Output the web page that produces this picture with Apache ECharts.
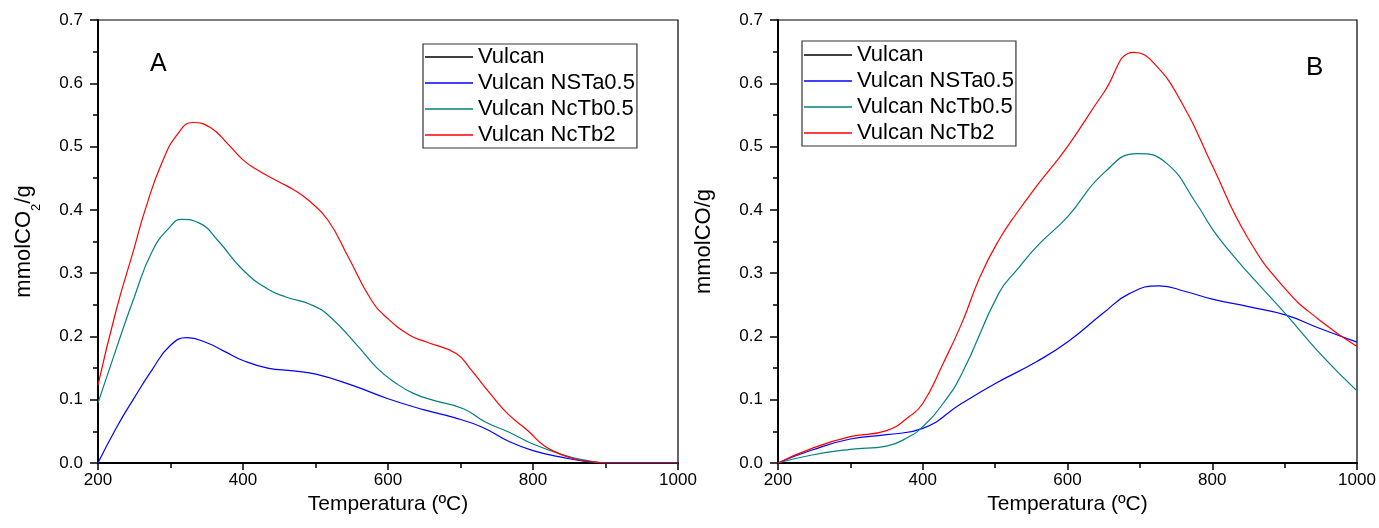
<!DOCTYPE html>
<html>
<head>
<meta charset="utf-8">
<script src="https://cdn.jsdelivr.net/npm/echarts@6/dist/echarts.min.js"></script>
<style>
html,body{margin:0;padding:0;background:#fff;}
#chart{width:1379px;height:528px;}
</style>
</head>
<body>
<div id="chart"></div>
<script>
// ---------- DATA ----------
var seriesNames = ['Vulcan', 'Vulcan NSTa0.5', 'Vulcan NcTb0.5', 'Vulcan NcTb2'];
var xTicks = [200, 400, 600, 800, 1000];
var yTicks = [0.0, 0.1, 0.2, 0.3, 0.4, 0.5, 0.6, 0.7];

// Panel A (mmolCO2/g)
var tA_vulcan = [];
var vA_vulcan = [];
var tA_nsta05 = [200, 225, 250, 275, 300, 323, 350, 375, 400, 434, 470, 502, 550, 600, 650, 689, 730, 767, 800, 844, 870, 900, 950, 1000];
var vA_nsta05 = [0.0, 0.055, 0.103, 0.148, 0.186, 0.198, 0.190, 0.176, 0.162, 0.150, 0.1455, 0.140, 0.123, 0.1016, 0.084, 0.0725, 0.0566, 0.034, 0.0196, 0.008, 0.003, 0.0, 0.0, 0.0];
var tA_nctb05 = [200, 225, 250, 275, 300, 315, 340, 365, 400, 434, 460, 494, 520, 559, 585, 611, 635, 663, 704, 735, 767, 800, 845, 870, 900, 950, 1000];
var vA_nctb05 = [0.095, 0.180, 0.262, 0.335, 0.374, 0.385, 0.379, 0.352, 0.305, 0.275, 0.262, 0.250, 0.231, 0.184, 0.150, 0.126, 0.110, 0.099, 0.0857, 0.0645, 0.0487, 0.030, 0.0116, 0.005, 0.0, 0.0, 0.0];
var tA_nctb2 = [200, 225, 250, 265, 288, 310, 331, 355, 380, 400, 420, 450, 471, 490, 517, 545, 577, 600, 630, 652, 694, 715, 741, 765, 793, 815, 834, 860, 891, 900, 950, 1000];
var vA_nctb2 = [0.123, 0.241, 0.340, 0.400, 0.474, 0.520, 0.538, 0.530, 0.503, 0.479, 0.463, 0.444, 0.431, 0.4155, 0.384, 0.326, 0.2575, 0.228, 0.202, 0.1915, 0.173, 0.1466, 0.1095, 0.078, 0.051, 0.0275, 0.016, 0.0055, 0.001, 0.0, 0.0, 0.0];

// Panel B (mmolCO/g)
var tB_vulcan = [];
var vB_vulcan = [];
var tB_nsta05 = [200, 247, 300, 350, 400, 454, 501, 557, 601, 649, 686, 727, 763, 800, 850, 901, 948, 1000];
var vB_nsta05 = [0.0, 0.0205, 0.0379, 0.0447, 0.0548, 0.0943, 0.126, 0.160, 0.192, 0.2365, 0.268, 0.280, 0.271, 0.259, 0.247, 0.234, 0.213, 0.191];
var tB_nctb05 = [200, 247, 300, 350, 381, 400, 428, 454, 505, 530, 560, 600, 650, 697, 737, 778, 800, 822, 850, 901, 948, 1000];
var vB_nctb05 = [0.0, 0.0126, 0.0216, 0.0268, 0.0416, 0.0574, 0.094, 0.141, 0.268, 0.305, 0.345, 0.389, 0.458, 0.489, 0.4735, 0.410, 0.370, 0.337, 0.300, 0.236, 0.174, 0.114];
var tB_nctb2 = [200, 247, 300, 350, 381, 400, 428, 454, 479, 505, 530, 557, 600, 650, 692, 720, 760, 800, 848, 901, 948, 1000];
var vB_nctb2 = [0.0, 0.0231, 0.0416, 0.0511, 0.0732, 0.094, 0.157, 0.221, 0.294, 0.352, 0.395, 0.437, 0.500, 0.585, 0.649, 0.631, 0.565, 0.470, 0.358, 0.275, 0.226, 0.184];

var colors = ['#000000', '#0000ff', '#008080', '#ff0000'];

// ---------- BUILD ----------
function pairs(t, v) { return t.map(function (x, i) { return [x, v[i]]; }); }

var panelA = [pairs(tA_vulcan, vA_vulcan), pairs(tA_nsta05, vA_nsta05), pairs(tA_nctb05, vA_nctb05), pairs(tA_nctb2, vA_nctb2)];
var panelB = [pairs(tB_vulcan, vB_vulcan), pairs(tB_nsta05, vB_nsta05), pairs(tB_nctb05, vB_nctb05), pairs(tB_nctb2, vB_nctb2)];

var FONT = 'Liberation Sans, Arial, sans-serif';

function makeX(idx) {
  return {
    type: 'value', gridIndex: idx, min: 200, max: 1000, interval: 200,
    name: 'Temperatura (ºC)', nameLocation: 'middle', nameGap: 31,
    nameTextStyle: { fontFamily: FONT, fontSize: 21, color: '#000' },
    axisLine: { show: true, onZero: false, lineStyle: { color: '#000', width: 2 } },
    axisTick: { show: true, length: 7, lineStyle: { color: '#000', width: 1.5 } },
    minorTick: { show: true, splitNumber: 2, length: 5, lineStyle: { color: '#000', width: 1.5 } },
    axisLabel: { fontFamily: FONT, fontSize: 17, color: '#000', margin: 9,
      formatter: function (v) { return xTicks.indexOf(v) >= 0 ? String(v) : ''; } },
    splitLine: { show: false }
  };
}
function makeY(idx, nameText, rich) {
  return {
    type: 'value', gridIndex: idx, min: 0, max: 0.7, interval: 0.1,
    name: nameText, nameLocation: 'middle', nameGap: 63,
    nameTextStyle: { fontFamily: FONT, fontSize: 22, color: '#000', rich: rich },
    axisLine: { show: true, onZero: false, lineStyle: { color: '#000', width: 2 } },
    axisTick: { show: true, length: 8, lineStyle: { color: '#000', width: 1.5 } },
    minorTick: { show: true, splitNumber: 2, length: 5, lineStyle: { color: '#000', width: 1.5 } },
    axisLabel: { fontFamily: FONT, fontSize: 17, color: '#000', margin: 15,
      formatter: function (v) {
        for (var i = 0; i < yTicks.length; i++) { if (Math.abs(yTicks[i] - v) < 1e-6) return yTicks[i].toFixed(1); }
        return '';
      } },
    splitLine: { show: false }
  };
}

var series = [];
[panelA, panelB].forEach(function (panel, p) {
  panel.forEach(function (d, i) {
    series.push({
      name: seriesNames[i], type: 'line', xAxisIndex: p, yAxisIndex: p,
      data: d, symbol: 'none', smooth: 0.5, animation: false,
      lineStyle: { color: colors[i], width: 1.2 }, itemStyle: { color: colors[i] }
    });
  });
});

function makeLegend(left, top, padTop) {
  return {
    data: seriesNames, orient: 'vertical', left: left, top: top,
    icon: 'rect', itemWidth: 48, itemHeight: 1.4, itemGap: 4,
    padding: [padTop, 2, 2, 2],
    borderColor: '#333', borderWidth: 1.2, backgroundColor: '#fff',
    selectedMode: false,
    textStyle: { fontFamily: FONT, fontSize: 22, color: '#000', lineHeight: 22 }
  };
}

var option = {
  backgroundColor: '#fff',
  animation: false,
  grid: [
    { left: 98, right: 701, top: 20, bottom: 65, show: true, borderColor: '#000', borderWidth: 1.2, containLabel: false },
    { left: 778, right: 22, top: 20, bottom: 65, show: true, borderColor: '#000', borderWidth: 1.2, containLabel: false }
  ],
  xAxis: [makeX(0), makeX(1)],
  yAxis: [
    makeY(0, 'mmolCO{sub|2}/g', { sub: { fontFamily: FONT, fontSize: 13, verticalAlign: 'bottom', padding: [0, 0, -8, 0] } }),
    makeY(1, 'mmolCO/g', {})
  ],
  legend: [makeLegend(423, 44, 2), makeLegend(802, 41, 3)],
  graphic: [
    { type: 'text', left: 150, top: 52, style: { text: 'A', fontFamily: FONT, fontSize: 25, fill: '#000' } },
    { type: 'text', left: 1306, top: 55, style: { text: 'B', fontFamily: FONT, fontSize: 26, fill: '#000' } }
  ],
  series: series
};

var chart = echarts.init(document.getElementById('chart'), null, { renderer: 'canvas' });
chart.setOption(option);
</script>
</body>
</html>
